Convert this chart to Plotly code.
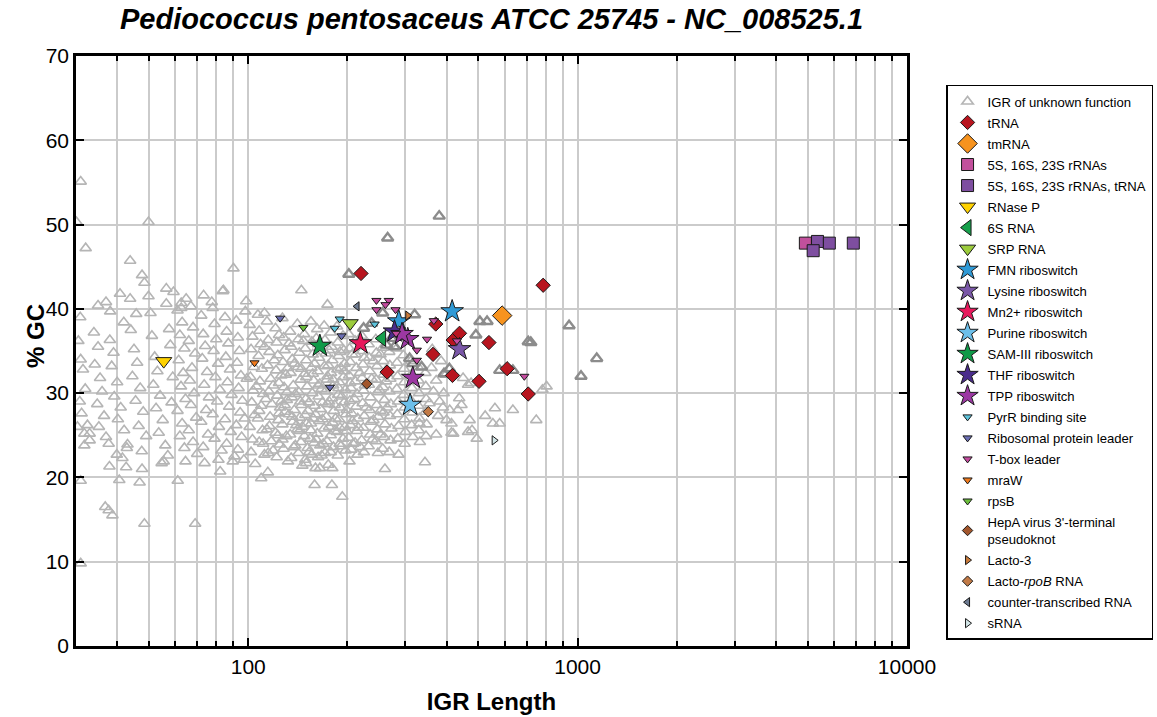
import math
import plotly.graph_objects as go

# ---- IGRs of unknown function (length, %GC) ----
unknown_pts = [
    # sparse upper-left outliers
    (31.0, 55.1), (30.1, 50.3), (49.8, 50.3), (32.1, 47.2), (43.8, 45.7), (47.6, 44.0), (48.4, 43.1),
    (40.8, 41.8), (43.8, 41.2), (56.4, 42.4), (59.3, 42.0), (49.8, 41.5), (35.0, 40.4), (37.0, 40.8),
    (38.1, 39.7), (30.9, 39.0), (45.7, 39.4), (50.5, 39.5), (41.9, 38.4), (56.4, 40.6), (62.6, 40.7),
    (64.8, 41.2), (62.6, 40.1), (90.2, 44.8), (83.7, 42.1), (145, 42.2), (73.2, 41.6), (77.5, 40.8),
    (84.1, 42.2), (98.6, 40.9), (174, 40.5), (112, 39.5),
    # left block, 30-60 nt
    (30.5, 36.2), (31, 34.0), (31.5, 32.8), (32, 30.5), (30.8, 29.0), (31.2, 27.6), (32.5, 26.2),
    (33, 25.2), (31.8, 23.8), (30.3, 26.0), (31.8, 25.2), (33.0, 24.4),
    (34, 37.2), (35, 35.5), (34.2, 33.4), (35.5, 31.8), (36, 30.2), (34.8, 28.7), (36.5, 27.3),
    (35.2, 26.0), (37, 24.8),
    (38, 36.3), (39, 34.8), (38.5, 33.2), (40, 31.3), (39.2, 29.6), (41, 28.3), (40.2, 26.9),
    (42, 25.6), (43, 23.9), (41.5, 22.3),
    (44, 37.5), (45, 35.2), (46, 33.6), (44.5, 32.0), (47, 30.6), (45.5, 29.1), (48, 27.8),
    (46.5, 26.1), (49, 24.9), (47.5, 23.1),
    (51, 36.8), (52, 34.3), (53, 32.6), (51.5, 31.0), (54, 29.7), (52.5, 28.2), (55, 26.8),
    (53.5, 25.3), (56, 23.8), (57, 22.6), (58, 35.7), (59, 31.9), (58.5, 28.9), (57.5, 37.6),
    # 60-100 nt
    (61, 39.8), (63, 38.4), (62, 36.9), (64, 35.3), (61.5, 33.9), (63.5, 32.4), (62.5, 30.8),
    (64.5, 29.3), (61, 27.9), (63, 26.4), (62, 24.9), (64, 23.5),
    (67, 40.3), (68, 37.8), (66, 36.2), (69, 34.7), (67.5, 33.0), (66.5, 31.5), (68.5, 30.0),
    (67, 28.6), (69.5, 27.1), (66, 25.6), (68, 24.2), (70, 22.8),
    (72, 39.2), (73, 37.0), (74, 35.6), (72.5, 34.1), (75, 32.5), (73.5, 31.0), (76, 29.5),
    (74.5, 28.0), (72, 26.6), (75.5, 25.1), (73, 23.6),
    (78, 40.1), (79, 38.2), (80, 36.4), (78.5, 35.0), (81, 33.5), (79.5, 31.9), (82, 30.4),
    (80.5, 29.0), (78, 27.5), (81.5, 26.0), (79, 24.6), (83, 23.2),
    (85, 39.0), (86, 37.3), (87, 35.9), (85.5, 34.3), (88, 32.8), (86.5, 31.3), (89, 29.8),
    (87.5, 28.4), (85, 26.9), (88.5, 25.4), (86, 24.0),
    (92, 38.6), (93, 36.6), (94, 35.0), (92.5, 33.6), (95, 32.1), (93.5, 30.6), (96, 29.1),
    (94.5, 27.7), (92, 26.2), (95.5, 24.8), (93, 23.3), (97, 22.1), (98, 39.7), (99, 31.7), (97.5, 27.0),
    # 100-200 nt, densest part
    (101, 38.1), (103, 36.7), (102, 35.2), (104, 33.1), (101.5, 31.9), (103.5, 30.3), (102.5, 28.9),
    (104.5, 27.4), (101, 26.0), (103, 24.5), (102, 23.0), (105, 21.6),
    (107, 39.3), (108, 37.4), (109, 35.8), (107.5, 34.4), (110, 32.9), (108.5, 31.4), (111, 29.9),
    (109.5, 28.5), (107, 27.0), (110.5, 25.6), (108, 24.2), (112, 22.7),
    (114, 38.5), (115, 36.3), (116, 34.9), (114.5, 33.3), (117, 31.7), (115.5, 30.2), (118, 28.7),
    (116.5, 27.2), (114, 25.7), (117.5, 24.3), (115, 22.9),
    (121, 37.7), (122, 36.0), (123, 34.5), (121.5, 32.7), (124, 31.2), (122.5, 29.7), (125, 28.3),
    (123.5, 26.8), (121, 25.3), (124.5, 23.9), (122, 22.4),
    (127, 38.9), (128, 36.6), (129, 35.1), (127.5, 33.7), (130, 32.2), (128.5, 30.7), (131, 29.2),
    (129.5, 27.8), (127, 26.3), (130.5, 24.9), (128, 23.4), (132, 21.9),
    (134, 37.3), (135, 35.5), (136, 34.0), (134.5, 32.4), (137, 30.9), (135.5, 29.5), (138, 28.0),
    (136.5, 26.6), (134, 25.1), (137.5, 23.6), (135, 22.3),
    (141, 38.2), (142, 36.4), (143, 34.8), (141.5, 33.1), (144, 31.6), (142.5, 30.1), (145, 28.6),
    (143.5, 27.1), (141, 25.7), (144.5, 24.2), (142, 22.9), (146, 21.4),
    (148, 37.0), (149, 35.3), (150, 33.9), (148.5, 32.3), (151, 30.8), (149.5, 29.3), (152, 27.9),
    (150.5, 26.4), (148, 24.9), (151.5, 23.5), (149, 22.1),
    (155, 38.5), (156, 36.1), (157, 34.6), (155.5, 33.0), (158, 31.5), (156.5, 30.0), (159, 28.5),
    (157.5, 27.0), (155, 25.6), (158.5, 24.1), (156, 22.7),
    (162, 37.6), (163, 35.8), (164, 34.2), (162.5, 32.6), (165, 31.1), (163.5, 29.6), (166, 28.1),
    (164.5, 26.7), (162, 25.2), (165.5, 23.8), (163, 22.4),
    (170, 38.0), (171, 36.3), (172, 34.7), (170.5, 33.2), (173, 31.6), (171.5, 30.2), (174, 28.7),
    (172.5, 27.2), (170, 25.8), (173.5, 24.3), (171, 22.9), (175, 21.5),
    (178, 37.2), (179, 35.5), (180, 33.9), (178.5, 32.4), (181, 30.9), (179.5, 29.4), (182, 27.9),
    (180.5, 26.5), (178, 25.0), (181.5, 23.6),
    (186, 37.9), (187, 36.0), (188, 34.4), (186.5, 32.8), (189, 31.3), (187.5, 29.8), (190, 28.3),
    (188.5, 26.9), (186, 25.4), (189.5, 24.0), (187, 22.6),
    (194, 36.8), (195, 35.1), (196, 33.5), (194.5, 31.9), (197, 30.4), (195.5, 28.9), (198, 27.5),
    (196.5, 26.0), (194, 24.6), (197.5, 23.2),
    (119, 30.9), (126, 29.0), (133, 27.5), (139, 29.9), (146, 26.0), (153, 28.9), (160, 27.5),
    (167, 30.5), (176, 29.0), (184, 27.0), (192, 29.6), (199, 25.5), (132, 33.0), (145, 32.9),
    (159, 33.5), (175, 33.3), (191, 33.0), (124, 27.6), (140, 26.2), (154, 24.6), (169, 24.0), (183, 25.5),
    (106, 30.8), (113, 29.3), (120, 33.9), (126, 32.1), (131, 30.1), (138, 33.5), (144, 29.0),
    (150, 31.9), (157, 32.3), (163, 30.9), (168, 28.9), (174, 32.0), (181, 31.6), (188, 30.6),
    (196, 32.6), (204, 31.2), (210, 29.3), (218, 32.4), (226, 30.9), (237, 31.7), (250, 30.4), (262, 31.4),
    (108, 27.9), (116, 26.1), (123, 25.0), (129, 28.6), (136, 27.2), (143, 25.5), (149, 27.4),
    (155, 26.4), (161, 24.5), (168, 26.9), (176, 26.0), (183, 28.6), (190, 25.9), (199, 28.0),
    (207, 26.7), (216, 25.9), (228, 28.3), (240, 26.8), (252, 27.9), (264, 28.3),
    (111, 24.0), (119, 23.2), (127, 24.5), (139, 23.8), (153, 23.0), (167, 22.6), (178, 23.0),
    (191, 23.7), (208, 24.0), (219, 23.6), (238, 24.5), (252, 25.1),
    (112, 35.5), (124, 36.9), (133, 35.9), (147, 36.2), (161, 36.5), (176, 35.1), (190, 34.9),
    (207, 34.6), (225, 34.2), (240, 33.8), (252, 34.6),
    # 200-350 nt
    (202, 37.0), (203, 35.3), (204, 33.7), (202.5, 32.1), (205, 30.6), (203.5, 29.1), (206, 27.6),
    (204.5, 26.2), (202, 24.7), (205.5, 23.3), (203, 21.9),
    (211, 36.2), (212, 34.6), (213, 33.0), (211.5, 31.4), (214, 29.9), (212.5, 28.4), (215, 27.0),
    (213.5, 25.5), (211, 24.1), (214.5, 22.7),
    (221, 36.8), (222, 35.0), (223, 33.4), (221.5, 31.8), (224, 30.3), (222.5, 28.8), (225, 27.3),
    (223.5, 25.9), (221, 24.4), (224.5, 23.0),
    (232, 35.8), (233, 34.2), (234, 32.6), (232.5, 31.0), (235, 29.5), (233.5, 28.0), (236, 26.6),
    (234.5, 25.1), (232, 23.7),
    (244, 36.4), (245, 34.8), (246, 33.2), (244.5, 31.6), (247, 30.1), (245.5, 28.6), (248, 27.2),
    (246.5, 25.7), (244, 24.3), (247.5, 22.9),
    (256, 35.4), (257, 33.8), (258, 32.2), (256.5, 30.7), (259, 29.2), (257.5, 27.7), (260, 26.3),
    (258.5, 24.8), (256, 23.4),
    (268, 34.9), (269, 33.3), (270, 31.7), (268.5, 30.2), (271, 28.7), (269.5, 27.3), (272, 25.8),
    (270.5, 24.4), (268, 23.0),
    (282, 35.3), (283, 33.6), (284, 32.0), (282.5, 30.5), (285, 29.0), (283.5, 27.5), (286, 26.1),
    (284.5, 24.6),
    (296, 34.5), (297, 32.9), (298, 31.3), (296.5, 29.8), (299, 28.3), (297.5, 26.9), (300, 25.4),
    (298.5, 24.0),
    (312, 33.8), (313, 32.2), (314, 30.6), (312.5, 29.1), (315, 27.7), (313.5, 26.2), (316, 24.8),
    (328, 33.1), (329, 31.5), (330, 30.0), (328.5, 28.5), (331, 27.0), (329.5, 25.6), (332, 24.2),
    (331, 26.4),
    (345, 32.4), (346, 30.8), (347, 29.3), (345.5, 27.8), (348, 26.3), (346.5, 24.9),
    # 350-800 nt, sparse
    (805, 30.8), (782, 30.4), (749, 26.8), (636, 28.0), (561, 28.2), (580, 26.4), (553, 26.4),
    (524, 27.3), (470, 26.8), (494, 24.6), (465, 25.4), (414, 25.3), (372, 25.1), (437, 29.4),
    (449, 31.8), (465, 31.0), (475, 31.2), (392, 30.0), (409, 28.0), (433, 28.0), (381, 29.0),
    (400, 26.8), (478, 25.6), (444, 28.6), (419, 25.2), (414, 26.4),
    (360, 33.0), (372, 31.5), (385, 33.8), (398, 32.2), (365, 30.2), (390, 28.3), (355, 28.8),
    (377, 27.3), (362, 35.2),
    # lower outliers
    (286, 22.7), (344, 21.8), (260, 21.0), (159, 19.1), (179.5, 19.1), (193, 17.7), (160, 21.1),
    (165, 21.1), (180, 21.1), (150, 21.7),
    (31.0, 19.6), (31.0, 9.8), (36.8, 16.5), (37.7, 16.1), (38.7, 15.5), (48.4, 14.5), (69.0, 14.5),
    (40.6, 19.7), (46.8, 19.4), (61.1, 19.6), (37.9, 21.3), (42.6, 21.2), (47.6, 21.0), (39.9, 22.7),
    (37.7, 24.0), (42.8, 23.5), (54.6, 21.7), (55.4, 21.9), (64.5, 21.9), (73.7, 21.7), (82.2, 20.7),
    (81.2, 22.1), (89.7, 21.9), (90.8, 22.5), (109.5, 19.9), (114.7, 20.6),
]
igr_len = [p[0] for p in unknown_pts]
igr_gc = [p[1] for p in unknown_pts]

# unknown IGRs drawn with the heavier dark-grey outline
dark_len = [202, 265, 380, 256, 320, 237, 224, 263, 278, 272, 309, 336, 316, 505, 531, 942,
            491, 708, 721, 1143, 1024, 580, 636, 393, 408]
dark_gc = [44.1, 48.4, 51.0, 39.5, 39.3, 38.3, 37.7, 35.7, 35.5, 36.5, 34.1, 33.1, 33.5, 38.5,
           38.5, 38.0, 36.9, 36.1, 36.0, 34.1, 32.0, 32.7, 32.7, 32.3, 32.9]

# ---- annotated IGRs ----
trna_len = [220, 264, 364, 371, 419, 438, 417, 502, 538, 611, 708, 786]
trna_gc = [44.2, 32.5, 34.6, 38.2, 36.3, 37.1, 32.1, 31.4, 36.0, 32.9, 29.9, 42.8]
tmrna_len = [590]
tmrna_gc = [39.2]
rrna_len = [4914]
rrna_gc = [47.8]
rrna_trna_len = [5350, 5190, 5810, 6870]
rrna_trna_gc = [48.0, 46.9, 47.8, 47.8]
rnasep_len = [55.4]
rnasep_gc = [33.8]
s6_len = [255]
s6_gc = [36.5]
srp_len = [204]
srp_gc = [38.3]
fmn_len = [286.5, 416]
fmn_gc = [38.5, 39.7]
lysine_len = [438]
lysine_gc = [35.2]
mn_len = [219]
mn_gc = [35.9]
purine_len = [310]
purine_gc = [28.6]
sam_len = [165]
sam_gc = [35.6]
thf_len = [278]
thf_gc = [37.3]
tpp_len = [305, 316, 293]
tpp_gc = [36.4, 31.8, 37.0]
pyrr_len = [189.5, 183, 242]
pyrr_gc = [38.8, 37.7, 38.2]
ribo_len = [125, 192, 177]
ribo_gc = [38.9, 36.8, 30.7]
tbox_len = [245, 267, 245, 261, 280, 281, 349, 366, 430, 325, 325, 689]
tbox_gc = [41.0, 41.0, 39.9, 40.5, 39.9, 37.1, 36.4, 38.6, 36.2, 33.9, 35.1, 32.0]
mraw_len = [104.5]
mraw_gc = [33.6]
rpsb_len = [147]
rpsb_gc = [37.8]
hepa_len = [229]
hepa_gc = [31.1]
lacto3_len = [305]
lacto3_gc = [39.2]
rpob_len = [352]
rpob_gc = [27.8]
ctrna_len = [214]
ctrna_gc = [40.3]
srna_len = [558]
srna_gc = [24.4]

x_major = [100, 1000, 10000]
x_major_text = ["100", "1000", "10000"]
x_minor = [40, 50, 60, 70, 80, 90, 200, 300, 400, 500, 600, 700, 800, 900,
           2000, 3000, 4000, 5000, 6000, 7000, 8000, 9000]
y_ticks = [0, 10, 20, 30, 40, 50, 60, 70]

GRID = "#cbcbcb"
fig = go.Figure()

fig.add_trace(go.Scatter(
    x=igr_len, y=igr_gc, mode="markers", name="IGR of unknown function",
    legendgroup="igr",
    marker=dict(symbol="triangle-up-open", size=10, color="#b5b5b5", line=dict(width=1.6)),
))
fig.add_trace(go.Scatter(
    x=dark_len, y=dark_gc, mode="markers", showlegend=False, hoverinfo="skip",
    legendgroup="igr",
    marker=dict(symbol="triangle-up-open", size=10, color="#8c8c8c", line=dict(width=2.4)),
))


def add_series(xs, ys, name, symbol, color, size):
    fig.add_trace(go.Scatter(
        x=xs, y=ys, mode="markers", name=name, legendgroup=name,
        marker=dict(symbol=symbol, size=size, color=color,
                    line=dict(color="#1a1a1a", width=1)),
    ))


add_series(trna_len, trna_gc, "tRNA", "diamond", "#b8151f", 11)
add_series(tmrna_len, tmrna_gc, "tmRNA", "diamond", "#f7931e", 15)
add_series(rrna_len, rrna_gc, "5S, 16S, 23S rRNAs", "square", "#c2509c", 12)
add_series(rrna_trna_len, rrna_trna_gc, "5S, 16S, 23S rRNAs, tRNA", "square", "#7e4ea0", 12)
add_series(rnasep_len, rnasep_gc, "RNase P", "triangle-down", "#ffd200", 14)
add_series(s6_len, s6_gc, "6S RNA", "triangle-left", "#16a04b", 14)
add_series(srp_len, srp_gc, "SRP RNA", "triangle-down", "#9ccc3c", 14)
add_series(fmn_len, fmn_gc, "FMN riboswitch", "star", "#2f9ad6", 17)
add_series(lysine_len, lysine_gc, "Lysine riboswitch", "star", "#7a57a8", 17)
add_series(mn_len, mn_gc, "Mn2+ riboswitch", "star", "#e8185c", 17)
add_series(purine_len, purine_gc, "Purine riboswitch", "star", "#6cbfea", 17)
add_series(sam_len, sam_gc, "SAM-III riboswitch", "star", "#0f9a48", 17)
add_series(thf_len, thf_gc, "THF riboswitch", "star", "#4a2c8c", 17)
add_series(tpp_len, tpp_gc, "TPP riboswitch", "star", "#9c38a3", 17)
add_series(pyrr_len, pyrr_gc, "PyrR binding site", "triangle-down", "#5ec4dc", 8)
add_series(ribo_len, ribo_gc, "Ribosomal protein leader", "triangle-down", "#6c6fb4", 8)
add_series(tbox_len, tbox_gc, "T-box leader", "triangle-down", "#c44b9f", 8)
add_series(mraw_len, mraw_gc, "mraW", "triangle-down", "#f07a1c", 8)
add_series(rpsb_len, rpsb_gc, "rpsB", "triangle-down", "#6cbf3c", 8)
add_series(hepa_len, hepa_gc, "HepA virus 3'-terminal<br>pseudoknot", "diamond", "#a2562c", 8)
add_series(lacto3_len, lacto3_gc, "Lacto-3", "triangle-right", "#c97a3a", 8)
add_series(rpob_len, rpob_gc, "Lacto-<i>rpoB</i> RNA", "diamond", "#c27a46", 8)
add_series(ctrna_len, ctrna_gc, "counter-transcribed RNA", "triangle-left", "#6d7b92", 8)
add_series(srna_len, srna_gc, "sRNA", "triangle-right", "#d3e6e8", 8)

FONT = "Liberation Sans, Arial, sans-serif"
PLOT_L, PLOT_R, PLOT_T, PLOT_B = 76, 907, 56, 646
fig.update_layout(
    width=1157, height=717,
    margin=dict(l=PLOT_L, r=1157 - PLOT_R, t=PLOT_T, b=717 - PLOT_B, autoexpand=False),
    plot_bgcolor="white", paper_bgcolor="white",
    font=dict(family=FONT, color="black"),
    title=dict(text="<b><i>Pediococcus pentosaceus ATCC 25745 - NC_008525.1</i></b>",
               x=(PLOT_L + PLOT_R) / 2 / 1157, xanchor="center", y=1 - 19 / 717, yanchor="middle",
               font=dict(size=29, family=FONT)),
    showlegend=True,
    legend=dict(x=1.047, xanchor="left", y=0.951, yanchor="top",
                bordercolor="black", borderwidth=1.5, bgcolor="white",
                font=dict(size=13.1, family=FONT), traceorder="grouped",
                tracegroupgap=1, itemwidth=30),
    annotations=[dict(
        text="<b>% GC</b>", textangle=-90, showarrow=False,
        xref="paper", yref="paper",
        x=(35 - PLOT_L) / (PLOT_R - PLOT_L), xanchor="center",
        y=(PLOT_B - 336) / (PLOT_B - PLOT_T), yanchor="middle",
        font=dict(size=24, family=FONT),
    )],
)
fig.update_xaxes(
    type="log", range=[math.log10(30), 4],
    tickmode="array", tickvals=x_major, ticktext=x_major_text,
    ticks="inside", ticklen=8, tickwidth=2, tickcolor="black",
    tickfont=dict(size=21, family=FONT),
    showgrid=True, gridcolor=GRID, gridwidth=2,
    minor=dict(tickmode="array", tickvals=x_minor, ticks="inside", ticklen=5,
               tickwidth=1.5, tickcolor="black", showgrid=True, gridcolor=GRID, gridwidth=2),
    showline=True, linecolor="black", linewidth=2.5, mirror="ticks",
    zeroline=False,
    title=dict(text="<b>IGR Length</b>", font=dict(size=24, family=FONT), standoff=17),
)
fig.update_yaxes(
    range=[0, 70], tickmode="array", tickvals=y_ticks,
    ticks="inside", ticklen=8, tickwidth=2, tickcolor="black",
    tickfont=dict(size=21, family=FONT),
    showgrid=True, gridcolor=GRID, gridwidth=2,
    showline=True, linecolor="black", linewidth=2.5, mirror="ticks",
    zeroline=False,
)

fig.write_html("out.html")
